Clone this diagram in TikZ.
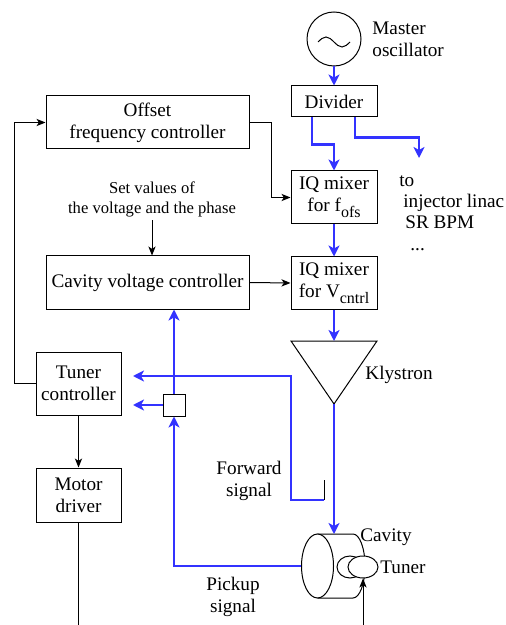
\documentclass[tikz,border=0pt]{standalone}
\usepackage{fontspec}
\setmainfont{Liberation Serif}
\usetikzlibrary{arrows.meta,shapes.geometric}
\definecolor{sig}{RGB}{51,51,255}
\newcommand{\mysub}[1]{\raisebox{-0.3em}{\fontsize{8}{9}\selectfont #1}}
\begin{document}
\begin{tikzpicture}[x=0.5pt,y=-0.5pt,
  bigf/.style={font=\fontsize{9.6}{11}\selectfont},
  smallf/.style={font=\fontsize{8.3}{10}\selectfont},
  txt/.style={bigf, inner sep=0pt, align=center},
  box/.style={draw, line width=0.5pt, fill=white, bigf, align=center, inner sep=0pt},
  thinl/.style={line width=0.5pt},
  blk/.style={line width=0.5pt, -{Stealth[length=4.5pt,width=3.6pt,inset=1.2pt]}},
  bl/.style={draw=sig, line width=1.1pt, -{Stealth[length=5.5pt,width=5.5pt,inset=1.5pt]}},
  elli/.style={draw, ellipse, line width=0.5pt, fill=white, inner sep=0pt}]
\useasboundingbox (0,0) rectangle (505,625);

% oscillator
\node[draw, circle, line width=0.5pt, minimum size=27pt, inner sep=0pt] (osc) at (334,39) {};
\draw[thinl] (318,42) sin (326,37) cos (334,42) sin (342,47) cos (350,42);
\node[txt, align=left, anchor=west] (osct) at (372,39) {Master\\oscillator};

% boxes
\node[box, minimum width=43pt, minimum height=15.5pt] (divider) at (334,101.5) {Divider};
\node[box, minimum width=43pt, minimum height=26.5pt] (fofs) at (334,197.5) {IQ mixer\\for f\mysub{ofs}};
\node[box, minimum width=43pt, minimum height=26pt] (vcntrl) at (334,283) {IQ mixer\\for V\mysub{cntrl}};
\node[box, minimum width=101.5pt, minimum height=26.5pt] (offset) at (147.5,122.5) {Offset\\frequency controller};
\node[box, minimum width=101.5pt, minimum height=26.5pt] (cvc) at (147.5,282.5) {Cavity voltage controller};
\node[box, minimum width=42.5pt, minimum height=31.5pt] (tuner) at (78.5,383.5) {Tuner\\controller};
\node[box, minimum width=42.5pt, minimum height=27pt] (motor) at (78.5,495) {Motor\\driver};
\node[box, minimum width=11pt, minimum height=11pt] (sq) at (174,405) {};

% klystron
\coordinate (kl) at (291,341);
\coordinate (kr) at (377,341);
\coordinate (ka) at (334,404);
\draw[thinl, line join=miter] (kl) -- (kr) -- (ka) -- cycle;
\node[txt, anchor=base west] (klt) at (365,379) {Klystron};

% cavity
\coordinate (cavt) at (334,534);
\draw[thinl] (317.5,534) -- (353,534) arc[start angle=90, end angle=-90, x radius=6pt, y radius=16pt] -- (317.5,598);
\node[elli, minimum width=16pt, minimum height=32pt] (cavL) at (317.5,566) {};
\node[elli, minimum width=13pt, minimum height=11pt] (tunA) at (350,567) {};
\node[elli, minimum width=15pt, minimum height=11pt] (tunB) at (363,567) {};
\node[txt, anchor=base west] (cavtx) at (360,541) {Cavity};
\node[txt, anchor=base west] (tuntx) at (380,573) {Tuner};
\coordinate (tbot) at (363,625);
\draw[blk] (tbot) -- (tunB.south);

% texts
\node[txt, smallf] (setv) at (152,199) {Set values of\\the voltage and the phase};
\node[txt, anchor=base west] (to1) at (399,187) {to};
\node[txt, anchor=base west] (to2) at (403,208) {injector linac};
\node[txt, anchor=base west] (to3) at (405,229) {SR BPM};
\node[txt, anchor=base west] (to4) at (410,250) {...};
\node[txt] (fwd) at (249,481) {Forward\\signal};
\node[txt] (pick) at (233,597) {Pickup\\signal};

% blue signal paths
\coordinate (tout) at (419,158);
\draw[bl] (osc.south) -- (divider.north);
\draw[bl] ([xshift=-11pt]divider.south) -- ++(0,27) -| (fofs.north);
\draw[bl] ([xshift=10.5pt]divider.south) -- ++(0,20) -| (tout);
\draw[bl] (fofs.south) -- (vcntrl.north);
\draw[bl] (vcntrl.south) -- (vcntrl.south |- kl);
\draw[bl] (ka) -- (cavt);

% forward signal coupler
\coordinate (fa) at (324,480);
\coordinate (fb) at (324,500);
\coordinate (fc) at (291,500);
\coordinate (fd) at (291,376);
\coordinate (fe) at (133,376);
\draw[thinl] (fa) -- (fb);
\draw[bl] (fb) -- (fc) -- (fd) -- (fe);

% pickup
\draw[bl] (cavL.west) -| (sq.south);
\draw[bl] (sq.north) -- (sq.north |- cvc.south);
\draw[bl] (sq.west) -- (sq.west -| fe);

% black control paths
\coordinate (obend) at (271,197.5);
\draw[blk] (offset.east) -| (obend) -- (fofs.west);
\draw[blk] (cvc.east) -- (vcntrl.west);
\draw[blk] ([yshift=-1.5pt]setv.south) -- (setv.south |- cvc.north);
\draw[blk] (tuner.west) -- ++(-21,0) |- (offset.west);
\draw[blk] (tuner.south) -- (motor.north);
\coordinate (mend) at (78.5,625);
\draw[thinl] (motor.south) -- (mend);
\end{tikzpicture}
\end{document}
